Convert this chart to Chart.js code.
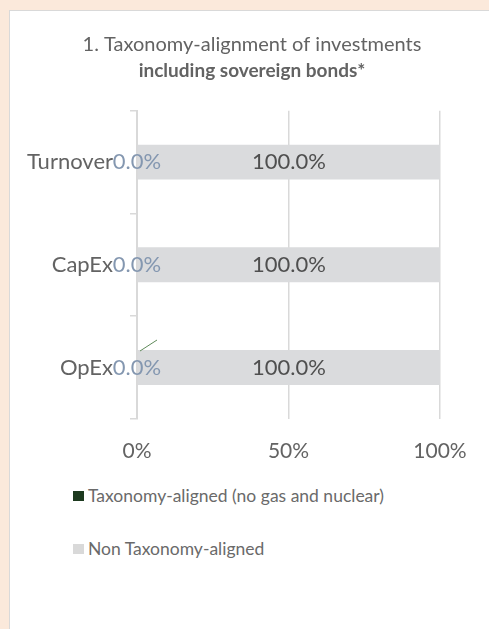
<!DOCTYPE html>
<html>
<head>
<meta charset="utf-8">
<script src="https://cdn.jsdelivr.net/npm/chart.js@4.4.1/dist/chart.umd.min.js"></script>
<style>
  html, body { margin: 0; padding: 0; }
  body { width: 489px; height: 629px; overflow: hidden; background: #fbe9db; position: relative; font-family: Lato, sans-serif; }
  #panel { position: absolute; left: 9px; top: 10px; width: 500px; height: 640px; background: #fff; border: 1px solid #d9d9d9; box-sizing: border-box; }
  #chart { position: absolute; left: 9px; top: 10px; }
  .leg { position: absolute; left: 73px; height: 12px; color: #6a6a6a; font-size: 17.5px; }
  .leg .box { position: absolute; left: 0; top: 0; width: 11px; height: 10px; }
  .leg .txt { position: absolute; left: 15px; top: -6px; white-space: nowrap; line-height: 22px; }
</style>
</head>
<body>
<div id="panel"></div>
<canvas id="chart" width="486" height="474"></canvas>
<div id="legend"></div>
<script>
// chart values
const categories = ['Turnover', 'CapEx', 'OpEx'];
const seriesNames = ['Taxonomy-aligned (no gas and nuclear)', 'Non Taxonomy-aligned'];
const alignedValues = [0, 0, 0];
const nonAlignedValues = [100, 100, 100];
const xTicks = [0, 50, 100];

const colors = ['#1d3a1f', '#dadbdd'];
const legendColors = ['#1d3a1f', '#d9d9d9'];
const labelColors = ['#8497b0', '#4f4f4f'];
const textGray = '#636363';
const gridGray = '#d9d9d9';

// draws the value labels (and the little leader line on OpEx)
const valueLabels = {
  id: 'valueLabels',
  afterDatasetsDraw(chart) {
    const ctx = chart.ctx;
    ctx.save();
    chart.data.datasets.forEach((ds, di) => {
      const meta = chart.getDatasetMeta(di);
      meta.data.forEach((el, i) => {
        const cx = (el.x + el.base) / 2;
        ctx.font = '22px Lato';
        ctx.fillStyle = labelColors[di];
        ctx.textAlign = 'center';
        ctx.textBaseline = 'middle';
        ctx.fillText(ds.data[i].toFixed(1) + '%', cx, el.y);
        if (di === 0 && i === categories.length - 1) {
          const top = el.y - el.height / 2;
          ctx.strokeStyle = '#5f8a5a';
          ctx.lineWidth = 1;
          ctx.beginPath();
          ctx.moveTo(el.x + 3, top + 1);
          ctx.lineTo(el.x + 20, top - 10);
          ctx.stroke();
        }
      });
    });
    ctx.restore();
  }
};

const chart = new Chart(document.getElementById('chart'), {
  type: 'bar',
  data: {
    labels: categories,
    datasets: [
      { label: seriesNames[0], data: alignedValues, backgroundColor: colors[0], categoryPercentage: 1, barPercentage: 0.34 },
      { label: seriesNames[1], data: nonAlignedValues, backgroundColor: colors[1], categoryPercentage: 1, barPercentage: 0.34 }
    ]
  },
  options: {
    indexAxis: 'y',
    responsive: false,
    animation: false,
    layout: { padding: { left: 13, right: 13, top: 0, bottom: 0 } },
    plugins: {
      legend: { display: false },
      tooltip: { enabled: false },
      title: {
        display: true,
        text: '1. Taxonomy-alignment of investments',
        color: textGray,
        font: { family: 'Lato', size: 20, weight: 'normal' },
        padding: { top: 23, bottom: 0 }
      },
      subtitle: {
        display: true,
        text: 'including sovereign bonds*',
        color: textGray,
        font: { family: 'Lato', size: 19, weight: 'bold' },
        padding: { top: 2, bottom: 29 }
      }
    },
    scales: {
      x: {
        stacked: true,
        min: 0,
        max: 100,
        afterBuildTicks(axis) { axis.ticks = xTicks.map(v => ({ value: v })); },
        grid: { color: gridGray, lineWidth: 1.5, drawTicks: false },
        border: { display: false },
        ticks: {
          color: textGray,
          padding: 20,
          font: { family: 'Lato', size: 21 },
          callback: v => v + '%'
        }
      },
      y: {
        stacked: true,
        offset: true,
        afterFit(axis) { axis.width = 115; },
        grid: { offset: true, drawOnChartArea: false, color: gridGray, lineWidth: 1.5, tickLength: 7 },
        border: { display: true, color: gridGray, width: 2 },
        ticks: {
          color: textGray,
          padding: 17,
          font: { family: 'Lato', size: 22 }
        }
      },
      // empty right-hand spacer so the plot ends where the reference does
      yRight: {
        type: 'category',
        position: 'right',
        labels: categories,
        afterFit(axis) { axis.width = 42; },
        grid: { display: false },
        border: { display: false },
        ticks: { display: false }
      }
    }
  },
  plugins: [valueLabels]
});

// legend built from the chart's datasets
const legendTops = [491, 544];
const legendEl = document.getElementById('legend');
chart.data.datasets.forEach((ds, i) => {
  const item = document.createElement('div');
  item.className = 'leg';
  item.style.top = legendTops[i] + 'px';
  item.innerHTML = '<span class="box" style="background:' + legendColors[i] + '"></span><span class="txt">' + ds.label + '</span>';
  legendEl.appendChild(item);
});
</script>
</body>
</html>
